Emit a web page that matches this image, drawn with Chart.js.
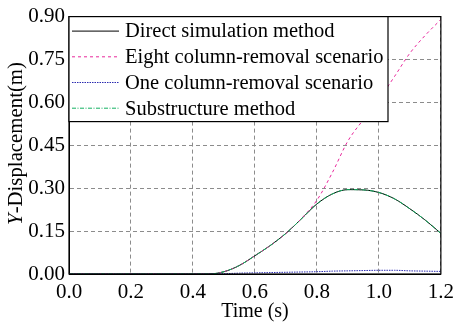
<!DOCTYPE html>
<html>
<head>
<meta charset="utf-8">
<script src="https://cdn.jsdelivr.net/npm/chart.js@4.4.1/dist/chart.umd.min.js"></script>
<style>
  html, body { margin: 0; padding: 0; background: #fff; }
  #wrap { width: 460px; height: 324px; }
</style>
</head>
<body>
<div id="wrap"><canvas id="dispChart" width="460" height="324"></canvas></div>
<script>
  // time axis (s)
  var time = [0, 0.05, 0.1, 0.15, 0.2, 0.25, 0.3, 0.35, 0.4, 0.45, 0.5, 0.55, 0.6, 0.65, 0.7, 0.75, 0.8, 0.85, 0.9, 0.95, 1.0, 1.05, 1.1, 1.15, 1.2];

  // Y-displacement (m)
  var directSim = [0, 0, 0, 0, 0, 0, 0, 0, 0, 0, 0.008, 0.03, 0.064, 0.1, 0.142, 0.193, 0.245, 0.28, 0.295, 0.294, 0.285, 0.263, 0.228, 0.188, 0.142];
  var eightCol  = [0, 0, 0, 0, 0, 0, 0, 0, 0, 0, 0.008, 0.03, 0.064, 0.1, 0.142, 0.194, 0.258, 0.355, 0.465, 0.54, 0.61, 0.69, 0.772, 0.835, 0.89];
  var oneCol    = [0, 0, 0, 0, 0, 0, 0, 0, 0, 0, 0.001, 0.003, 0.004, 0.005, 0.006, 0.007, 0.008, 0.01, 0.011, 0.012, 0.013, 0.013, 0.011, 0.01, 0.009];
  var substruct = [0, 0, 0, 0, 0, 0, 0, 0, 0, 0, 0.008, 0.03, 0.064, 0.1, 0.142, 0.193, 0.245, 0.28, 0.295, 0.294, 0.285, 0.263, 0.228, 0.188, 0.142];

  var labels = ['Direct simulation method', 'Eight column-removal scenario', 'One column-removal scenario', 'Substructure method'];
  var xTicks = [0.0, 0.2, 0.4, 0.6, 0.8, 1.0, 1.2];
  var yTicks = [0.00, 0.15, 0.30, 0.45, 0.60, 0.75, 0.90];

  var serif = '"Liberation Serif", "Times New Roman", serif';

  function pts(ys) {
    return time.map(function (t, i) { return { x: t, y: ys[i] }; });
  }

  // frame + legend + y title drawn by hand (legend sits inside the plot)
  var extras = {
    id: 'extras',
    afterDraw: function (chart) {
      var c = chart.ctx, a = chart.chartArea;
      c.save();
      c.strokeStyle = '#000';
      c.lineWidth = 1.2;
      c.strokeRect(a.left, a.top, a.right - a.left, a.bottom - a.top);

      // legend box
      var lx = a.left, ly = a.top, lw = 319, lh = 105;
      c.fillStyle = '#fff';
      c.fillRect(lx, ly, lw, lh);
      c.strokeRect(lx, ly, lw, lh);
      c.font = '20.5px ' + serif;
      c.textBaseline = 'middle';
      chart.data.datasets.forEach(function (ds, i) {
        var y = ly + 14.5 + i * 25.7;
        c.strokeStyle = ds.borderColor;
        c.lineWidth = 1;
        c.setLineDash(ds.borderDash || []);
        c.beginPath();
        c.moveTo(lx + 3, y);
        c.lineTo(lx + 50, y);
        c.stroke();
        c.setLineDash([]);
        c.fillStyle = '#000';
        c.fillText(ds.label, lx + 56, y + 1);
      });

      // rotated y title with italic Y, sized to span ~163px like the original
      c.translate(17, 143.5);
      c.rotate(-Math.PI / 2);
      c.textBaseline = 'middle';
      var fs = 20;
      c.font = 'italic ' + fs + 'px ' + serif;
      var w1 = c.measureText('Y').width;
      c.font = fs + 'px ' + serif;
      var w2 = c.measureText('-Displacement(m)').width;
      fs = Math.min(21, fs * 163 / (w1 + w2));
      c.font = 'italic ' + fs + 'px ' + serif;
      w1 = c.measureText('Y').width;
      c.font = fs + 'px ' + serif;
      w2 = c.measureText('-Displacement(m)').width;
      var x0 = -(w1 + w2) / 2;
      c.fillStyle = '#000';
      c.font = 'italic ' + fs + 'px ' + serif;
      c.fillText('Y', x0, 0);
      c.font = fs + 'px ' + serif;
      c.fillText('-Displacement(m)', x0 + w1, 0);
      c.restore();
    }
  };

  var ctx = document.getElementById('dispChart').getContext('2d');
  var dispChart = new Chart(ctx, {
    type: 'line',
    data: {
      datasets: [{
        label: labels[0],
        data: pts(directSim),
        borderColor: '#000000',
        borderWidth: 1,
        order: 4
      }, {
        label: labels[1],
        data: pts(eightCol),
        borderColor: '#e8289c',
        borderWidth: 1,
        borderDash: [3, 3],
        order: 3
      }, {
        label: labels[2],
        data: pts(oneCol),
        borderColor: '#2a2ab0',
        borderWidth: 1,
        borderDash: [1.5, 1],
        order: 2
      }, {
        label: labels[3],
        data: pts(substruct),
        borderColor: '#12b060',
        borderWidth: 1,
        borderDash: [4, 1.5, 1, 1.5],
        order: 1
      }]
    },
    options: {
      responsive: false,
      animation: false,
      parsing: false,
      elements: {
        point: { radius: 0 },
        line: { cubicInterpolationMode: 'monotone', fill: false }
      },
      layout: { padding: { top: 14, right: 13, left: 0, bottom: 0 } },
      plugins: {
        legend: { display: false },
        tooltip: { enabled: false }
      },
      scales: {
        x: {
          type: 'linear',
          min: 0,
          max: 1.2,
          afterBuildTicks: function (s) { s.ticks = xTicks.map(function (v) { return { value: v }; }); },
          ticks: {
            color: '#000',
            font: { family: serif, size: 21 },
            padding: 6,
            maxRotation: 0,
            callback: function (v) { return v.toFixed(1); }
          },
          grid: { color: '#8c8c8c', drawTicks: false },
          border: { display: true, color: '#000', dash: [4, 3] },
          title: {
            display: true,
            text: 'Time (s)',
            color: '#000',
            font: { family: serif, size: 20 },
            padding: { top: -3, bottom: 0 }
          },
          afterFit: function (s) { s.height = 50; }
        },
        y: {
          min: 0,
          max: 0.9,
          afterBuildTicks: function (s) { s.ticks = yTicks.map(function (v) { return { value: v }; }); },
          ticks: {
            color: '#000',
            font: { family: serif, size: 21 },
            padding: 4,
            callback: function (v) { return v.toFixed(2); }
          },
          grid: { color: '#8c8c8c', drawTicks: false },
          border: { display: true, color: '#000', dash: [4, 3] },
          afterFit: function (s) { s.width = 69; }
        }
      }
    },
    plugins: [extras]
  });
</script>
</body>
</html>
